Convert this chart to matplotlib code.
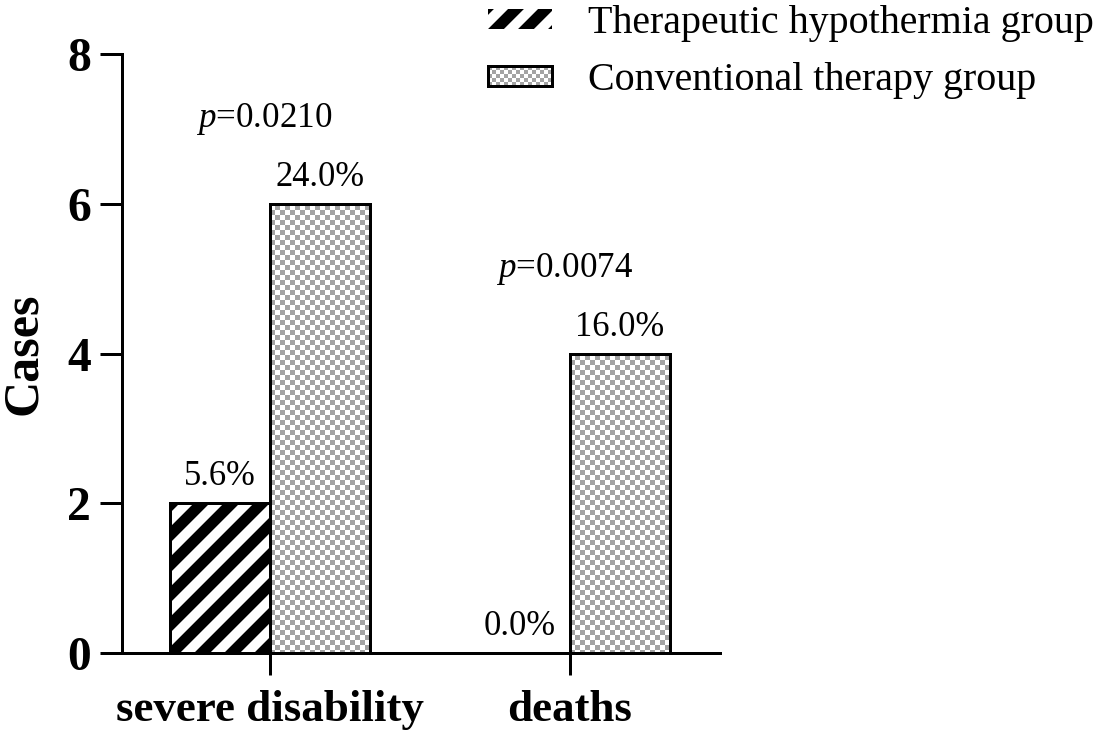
import numpy as np
import matplotlib
matplotlib.use("Agg")
import matplotlib.pyplot as plt
from matplotlib.legend_handler import HandlerBase
from matplotlib.patches import Rectangle, Patch

# data
categories = ["severe disability", "deaths"]
hypothermia = [2, 0]
conventional = [6, 4]
hypo_pct = ["5.6%", "0.0%"]
conv_pct = ["24.0%", "16.0%"]
p_values = ["0.0210", "0.0074"]
series_names = ["Therapeutic hypothermia group", "Conventional therapy group"]
yticks = [0, 2, 4, 6, 8]

DPI = 180
W, H = 1097, 743
GRAY = (0.64, 0.64, 0.64)
CELL = 5  # checker cell, pixels

plt.rcParams["font.family"] = ["Liberation Serif", "DejaVu Serif"]
plt.rcParams["mathtext.fontset"] = "custom"
plt.rcParams["mathtext.rm"] = "Liberation Serif"
plt.rcParams["mathtext.it"] = "Liberation Serif:italic"
plt.rcParams["hatch.linewidth"] = 4.0


class CheckerHandler(HandlerBase):
    # legend box filled with a gray/white checker
    def create_artists(self, legend, orig_handle, xdescent, ydescent,
                       width, height, fontsize, trans):
        cell = CELL * 0.8 * 72.0 / DPI
        x0, y0 = -xdescent, -ydescent
        arts = [Rectangle((x0, y0), width, height, facecolor="white",
                          edgecolor="none", transform=trans)]
        nx = int(np.ceil(width / cell))
        ny = int(np.ceil(height / cell))
        for i in range(nx):
            for j in range(ny):
                if (i + j) % 2 == 0:
                    w = min(cell, width - i * cell)
                    h = min(cell, height - j * cell)
                    arts.append(Rectangle((x0 + i * cell, y0 + j * cell), w, h,
                                          facecolor=GRAY, edgecolor="none",
                                          transform=trans))
        arts.append(Rectangle((x0, y0), width, height, facecolor="none",
                              edgecolor="black", lw=1.2, transform=trans))
        return arts


fig = plt.figure(figsize=(W / DPI, H / DPI), dpi=DPI)
ax = fig.add_axes([122 / W, 90 / H, 598 / W, 598.7 / H])
ax.patch.set_facecolor("none")

x = np.arange(len(categories))
bw = 1 / 3

b1 = ax.bar(x - bw / 2, hypothermia, bw, color="black", edgecolor="white",
            linewidth=0, hatch="//", label=series_names[0])
ax.bar(x - bw / 2, hypothermia, bw, facecolor="none", edgecolor="black", linewidth=1.2)
b2 = ax.bar(x + bw / 2, conventional, bw, facecolor="none", edgecolor="black",
            linewidth=1.2, label=series_names[1])

# checker texture, clipped to the conventional bars
rr, cc = np.mgrid[0:H, 0:W]
chk = ((rr // CELL + cc // CELL) % 2 == 0)
img = np.ones((H, W, 3))
img[chk] = GRAY
for bar in b2:
    im = fig.figimage(img, xo=0, yo=0, origin="upper", zorder=-1)
    im.set_clip_path(bar)

for i in range(len(categories)):
    ax.annotate(hypo_pct[i], (x[i] - bw / 2, hypothermia[i]), xytext=(0, 4),
                textcoords="offset points", ha="center", va="bottom", fontsize=13.8)
    ax.annotate(conv_pct[i], (x[i] + bw / 2, conventional[i]), xytext=(0, 4),
                textcoords="offset points", ha="center", va="bottom", fontsize=13.8)
    top = max(hypothermia[i], conventional[i])
    ax.annotate("$p$=" + p_values[i], (x[i] - 0.02, top), xytext=(0, 34),
                textcoords="offset points", ha="center", va="center", fontsize=14)

ax.set_xlim(-0.493, 1.5)
ax.set_ylim(0, 8)
ax.set_yticks(yticks)
ax.set_xticks(x)
ax.set_xticklabels(categories, fontsize=18, fontweight="bold")
for t in ax.get_yticklabels():
    t.set_fontsize(19)
    t.set_fontweight("bold")
ax.set_ylabel("Cases", fontsize=20, fontweight="bold", labelpad=8)

for s in ["top", "right"]:
    ax.spines[s].set_visible(False)
for s in ["left", "bottom"]:
    ax.spines[s].set_linewidth(1.2)
ax.tick_params(axis="both", length=8.8, width=1.2)
ax.tick_params(axis="y", pad=3.6)
ax.tick_params(axis="x", pad=6)

checker_handle = Patch(label=series_names[1])
fig.legend(handles=[b1[0], checker_handle], labels=series_names,
           handler_map={checker_handle: CheckerHandler()},
           loc="upper left", bbox_to_anchor=(488 / W, 0.993), frameon=False,
           fontsize=16, handlelength=1.6, handleheight=0.375, handletextpad=0.9,
           labelspacing=0.5, borderpad=0, borderaxespad=0)

fig.savefig("out.png", dpi=DPI)
